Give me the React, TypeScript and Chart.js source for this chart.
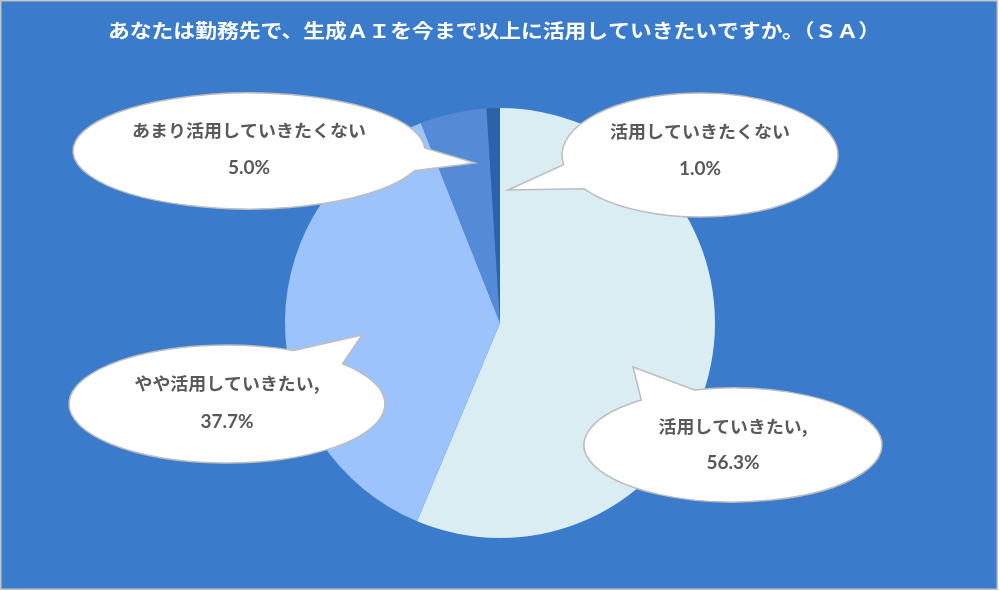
import React, { useEffect, useRef } from "react";
import { Chart, registerables } from "chart.js";

Chart.register(...registerables);

const TITLE = "あなたは勤務先で、生成ＡＩを今まで以上に活用していきたいですか。（ＳＡ）";
const categories = ["活用していきたい", "やや活用していきたい", "あまり活用していきたくない", "活用していきたくない"];
const values = [56.3, 37.7, 5.0, 1.0];
const valueLabels = ["56.3%", "37.7%", "5.0%", "1.0%"];
const bubbleTitles = ["活用していきたい,", "やや活用していきたい,", "あまり活用していきたくない", "活用していきたくない"];
const sliceColors = ["#daedf3", "#9dc3fc", "#558bd6", "#2b62a8"];

// bubble geometry: center, radii, tail base parametric angles (deg), tail tip
const bubbles = [
  { cx: 733, cy: 445, rx: 149, ry: 57, a: -128, b: -105, tx: 633, ty: 367, ly: 427, vy: 463 },
  { cx: 227, cy: 404, rx: 158, ry: 59, a: -65, b: -43, tx: 362, ty: 335, ly: 384, vy: 422 },
  { cx: 249, cy: 151, rx: 176, ry: 58, a: -3, b: 20, tx: 475, ty: 163, ly: 131, vy: 168 },
  { cx: 700, cy: 155, rx: 138, ry: 62, a: 147, b: 171, tx: 508, ty: 190, ly: 132, vy: 169 },
];

const FONT = '"Noto Sans CJK JP", "Noto Sans", sans-serif';

const decor = {
  id: "decor",
  beforeDraw(chart: any) {
    const ctx = chart.ctx;
    ctx.save();
    ctx.fillStyle = "#ffffff";
    ctx.fillRect(0, 0, chart.width, chart.height);
    ctx.fillStyle = "#3a7bcc";
    ctx.fillRect(1, 1, 996, 588);
    ctx.strokeStyle = "#c4c4c4";
    ctx.lineWidth = 1.5;
    ctx.strokeRect(0.75, 0.75, 996.5, 588.5);
    ctx.fillStyle = "#ffffff";
    ctx.font = `bold 19px ${FONT}`;
    ctx.textAlign = "center";
    ctx.textBaseline = "middle";
    const w = ctx.measureText(TITLE).width;
    const target = 772;
    ctx.translate(494, 31);
    ctx.scale(target / w, 1);
    ctx.fillText(TITLE, 0, 0);
    ctx.restore();
  },
  afterDraw(chart: any) {
    const ctx = chart.ctx;
    bubbles.forEach((bb, i) => {
      ctx.save();
      const a = (bb.a * Math.PI) / 180;
      const b = (bb.b * Math.PI) / 180;
      ctx.beginPath();
      ctx.ellipse(bb.cx, bb.cy, bb.rx, bb.ry, 0, b, a + 2 * Math.PI, false);
      ctx.lineTo(bb.tx, bb.ty);
      ctx.closePath();
      ctx.fillStyle = "#ffffff";
      ctx.fill();
      ctx.strokeStyle = "#bdbdbd";
      ctx.lineWidth = 1.5;
      ctx.stroke();
      ctx.fillStyle = "#595959";
      ctx.textAlign = "center";
      ctx.textBaseline = "middle";
      ctx.font = `bold 17px ${FONT}`;
      const t = bubbleTitles[i];
      const tw = ctx.measureText(t).width;
      const wide = t.replace(/,/g, "").length * 18 + (t.includes(",") ? 5 : 0);
      ctx.save();
      ctx.translate(bb.cx, bb.ly);
      ctx.scale(wide / tw, 1);
      ctx.fillText(t, 0, 0);
      ctx.restore();
      ctx.font = `bold 19px Lato, "Noto Sans", sans-serif`;
      ctx.fillText(valueLabels[i], bb.cx, bb.vy);
      ctx.restore();
    });
  },
};

export default function App() {
  const ref = useRef<HTMLCanvasElement>(null);
  useEffect(() => {
    document.body.style.margin = "0";
    const chart = new Chart(ref.current!, {
      type: "pie",
      data: {
        labels: categories,
        datasets: [
          {
            data: values,
            backgroundColor: sliceColors,
            borderWidth: 0,
          },
        ],
      },
      options: {
        animation: false,
        responsive: false,
        layout: { padding: { top: 108, bottom: 53, left: 0, right: 0 } },
        plugins: {
          legend: { display: false },
          title: { display: false },
          tooltip: { enabled: false },
        },
      },
      plugins: [decor],
    });
    return () => chart.destroy();
  }, []);
  return (
    <div style={{ position: "absolute", left: 0, top: 0, width: 1000, height: 591 }}>
      <canvas ref={ref} width={1000} height={591} style={{ width: 1000, height: 591 }} />
    </div>
  );
}
